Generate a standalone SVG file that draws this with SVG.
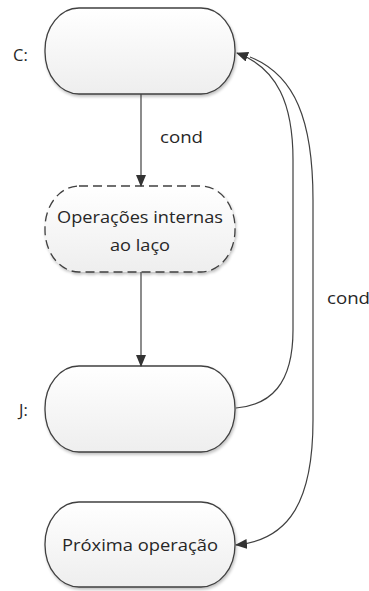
<svg xmlns="http://www.w3.org/2000/svg" width="369" height="591" viewBox="0 0 369 591">
<defs>
<linearGradient id="g" x1="0" y1="0" x2="0" y2="1">
<stop offset="0" stop-color="#ffffff"/>
<stop offset="1" stop-color="#eeeeee"/>
</linearGradient>
<filter id="sh" x="-10%" y="-10%" width="130%" height="130%">
<feGaussianBlur in="SourceAlpha" stdDeviation="1.5"/>
<feOffset dx="1" dy="2" result="b"/>
<feComponentTransfer><feFuncA type="linear" slope="0.25"/></feComponentTransfer>
<feMerge><feMergeNode/><feMergeNode in="SourceGraphic"/></feMerge>
</filter>
<marker id="ah" markerWidth="12" markerHeight="10" refX="11" refY="5" orient="auto" markerUnits="userSpaceOnUse">
<path d="M0,0 L12,5 L0,10 Z" fill="#333"/>
</marker>
</defs>
<style>
.n{fill:url(#g);stroke:#404040;stroke-width:1.3;filter:url(#sh)}
.d{stroke-dasharray:9,5}
.t{font-family:"Open Sans","Liberation Sans",sans-serif;font-size:16.5px;fill:#262626}
.c{fill:none;stroke:#404040;stroke-width:1.2}
</style>
<rect width="369" height="591" fill="#fff"/>
<g id="nodeC">
<rect class="n" x="45" y="8" width="190" height="86" rx="34" ry="42"/>
<text class="t" x="13" y="61">C:</text>
</g>
<g id="nodeOps">
<rect class="n d" x="45" y="186" width="190" height="86" rx="34" ry="42"/>
<text class="t" x="140" y="223" text-anchor="middle" textLength="166" lengthAdjust="spacingAndGlyphs">Operações internas</text>
<text class="t" x="140" y="251" text-anchor="middle" textLength="60" lengthAdjust="spacingAndGlyphs">ao laço</text>
</g>
<g id="nodeJ">
<rect class="n" x="45" y="366" width="190" height="86" rx="34" ry="42"/>
<text class="t" x="19" y="416">J:</text>
</g>
<g id="nodeNext">
<rect class="n" x="45" y="502" width="190" height="85" rx="34" ry="42"/>
<text class="t" x="140" y="551" text-anchor="middle" textLength="156" lengthAdjust="spacingAndGlyphs">Próxima operação</text>
</g>
<g id="connectors">
<path class="c" d="M141,94 L141,186" marker-end="url(#ah)"/>
<text class="t" x="160" y="143" textLength="43" lengthAdjust="spacingAndGlyphs">cond</text>
<path class="c" d="M141,272 L141,366" marker-end="url(#ah)"/>
<path class="c" d="M236,408 C270,405 293,385 293,330 L293,160 C293,105 278,68 237,53" marker-end="url(#ah)"/>
<path class="c" d="M250,57 C295,75 313,120 313,200 L313,420 C313,500 290,540 236,545" marker-end="url(#ah)"/>
<text class="t" x="327" y="304" textLength="43" lengthAdjust="spacingAndGlyphs">cond</text>
</g>
</svg>
